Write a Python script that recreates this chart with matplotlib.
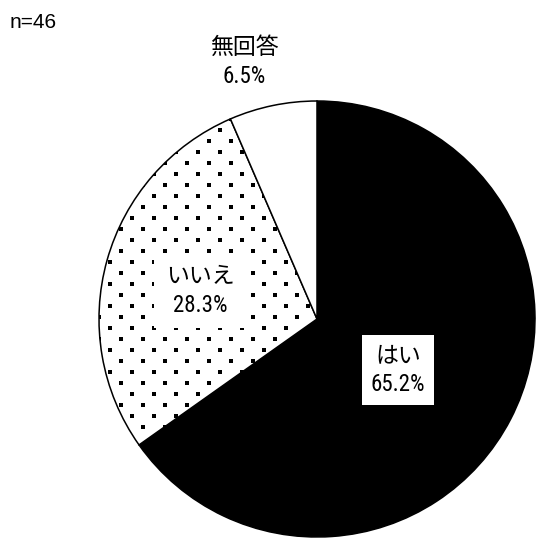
import numpy as np
import matplotlib.pyplot as plt

# survey answers (n=46)
labels = ['はい', 'いいえ', '無回答']
shares = [65.2, 28.3, 6.5]
n_total = 46

label_font = ['Roboto Condensed', 'PT Sans Narrow', 'Noto Sans CJK JP', 'DejaVu Sans']
plt.rcParams['font.family'] = ['Liberation Sans', 'Noto Sans CJK JP', 'DejaVu Sans']

W, H = 537, 542
fig = plt.figure(figsize=(W / 100, H / 100), dpi=100)
ax = fig.add_axes([0, 0, 1, 1])

cx, cy, R = 317, H - 319, 218
wedges, _ = ax.pie(shares, startangle=90, counterclock=False,
                   colors=['black', 'white', 'white'], center=(cx, cy), radius=R,
                   wedgeprops=dict(edgecolor='black', linewidth=1.1), frame=True)
ax.set_xlim(0, W)
ax.set_ylim(0, H)
ax.set_aspect('equal')
ax.axis('off')

# dotted fill for the "いいえ" slice: staggered grid of small squares
gx, gy = [], []
for j, y in enumerate(np.arange(cy - R, cy + R, 11.0)):
    off = 0 if j % 2 == 0 else 11
    for x in np.arange(cx - R + off, cx + R, 22.0):
        gx.append(x)
        gy.append(y)
dots = ax.scatter(gx, gy, s=5, marker='s', color='black', linewidths=0, zorder=3)
dots.set_clip_path(wedges[1])

# slice labels
txt_kw = dict(ha='center', va='center', fontsize=16.5, family=label_font,
              linespacing=1.3, zorder=5)
ax.text(398, H - 370, f'{labels[0]}\n{shares[0]}%',
        bbox=dict(boxstyle='square,pad=0.4', fc='white', ec='none'), **txt_kw)
ax.text(200, H - 291, f'{labels[1]}\n{shares[1]}%',
        bbox=dict(boxstyle='square,pad=0.5', fc='white', ec='none'), **txt_kw)
ax.text(244, H - 62, f'{labels[2]}\n{shares[2]}%', **txt_kw)

ax.text(10, H - 22, f'n={n_total}', ha='left', va='center', fontsize=15)

fig.savefig('out.png', dpi=100)
